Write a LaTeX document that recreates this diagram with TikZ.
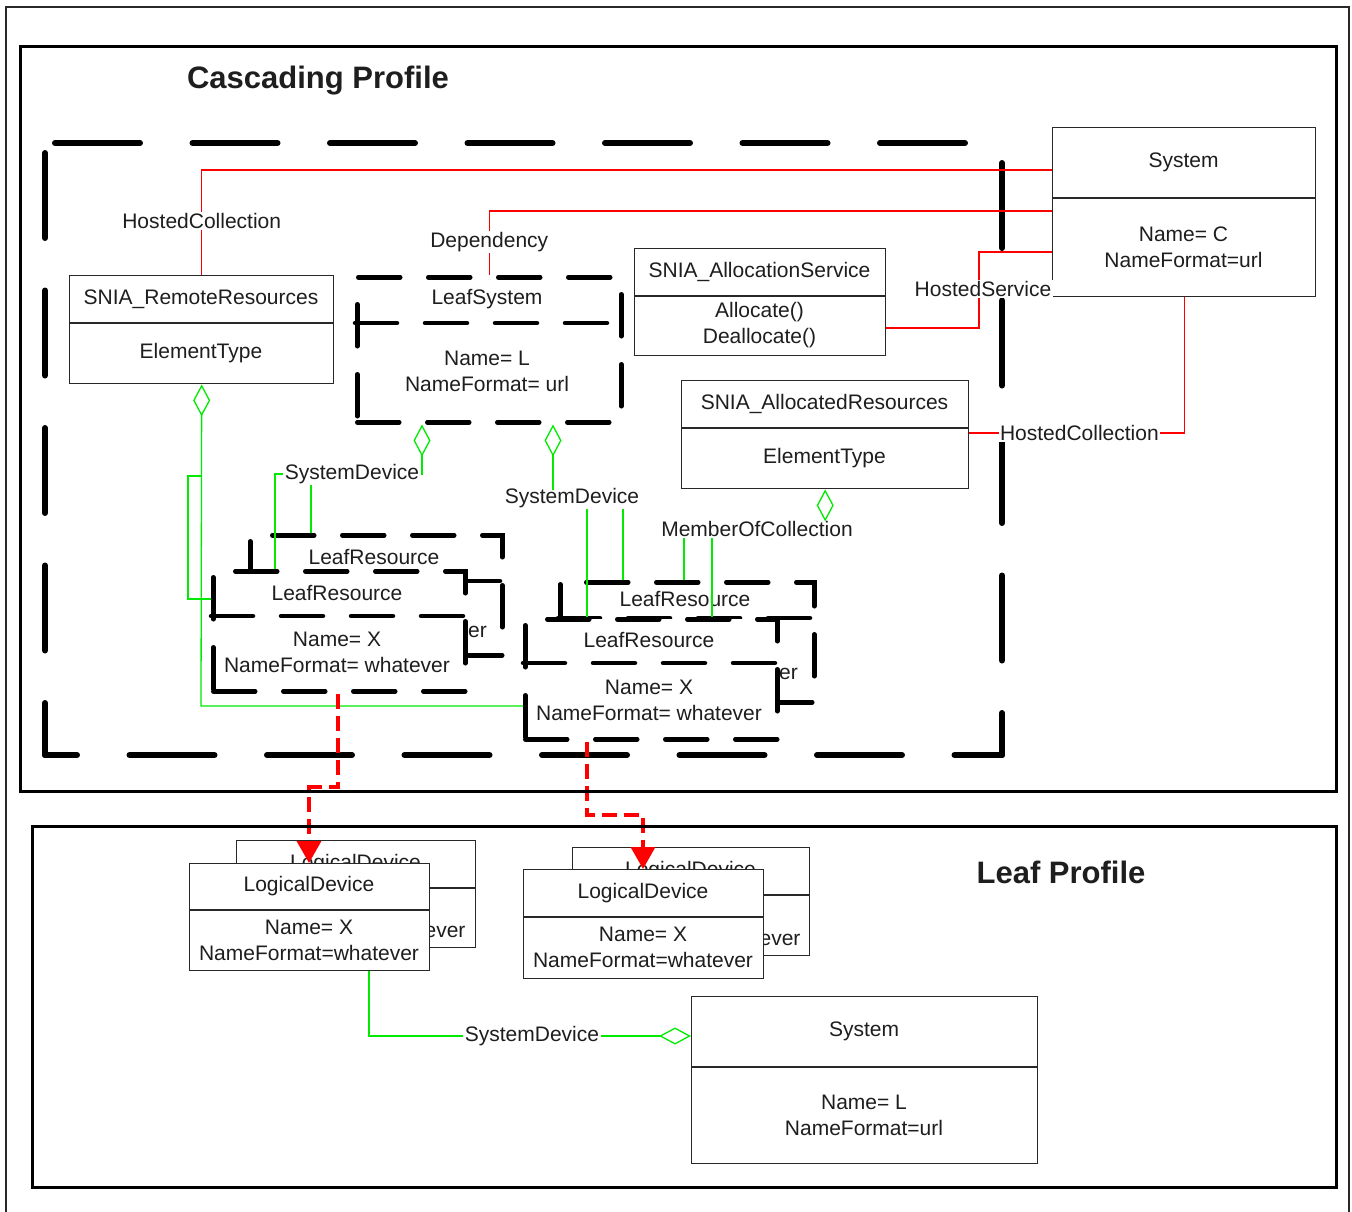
\documentclass[tikz,border=0pt]{standalone}
\usepackage{fontspec}
\setmainfont{Liberation Sans}
\usetikzlibrary{arrows.meta}
\definecolor{gr}{RGB}{0,235,0}
\definecolor{tx}{RGB}{30,30,30}
\definecolor{ln}{RGB}{40,40,40}
\tikzset{
 txt/.style={text=tx, font=\fontsize{21}{26}\selectfont, align=center, inner sep=1pt},
 ttl/.style={text=tx, font=\fontsize{31}{36}\selectfont\bfseries, inner sep=0pt},
 solidbox/.style={draw=ln, line width=1.4pt, fill=white},
 dashbox/.style={draw=black, line width=4.5pt, dash pattern=on 42pt off 28pt, line cap=round, fill=white},
 rl/.style={draw=red, line width=1.3pt},
 gl/.style={draw=gr, line width=1.3pt},
 lbl/.style={txt, fill=white, inner sep=1.5pt},
 dia/.style={{Diamond[open, length=32pt, width=17pt]}-},
 diaend/.style={-{Diamond[open, length=32pt, width=17pt]}},
 rda/.style={draw=red, line width=3.5pt, dash pattern=on 15pt off 7pt, -{Triangle[width=24pt,length=22pt]}},
 frame/.style={draw=black, line width=6pt, dash pattern=on 85pt off 52.5pt, line cap=round},
}
\newcommand\umlbox[9]{%
 \pgfmathsetmacro\myBW{#4-#2}\pgfmathsetmacro\myBH{#5-#3}%
 \node[#7, minimum width=\myBW pt, minimum height=\myBH pt, anchor=north west, inner sep=0pt] (#1) at (#2,#3) {};
 \draw[#7] (#2,#6) -- (#4,#6);
 \node[txt] at ({(#2+#4)/2},{(#3+#6)/2}) {#8};
 \node[txt] at ({(#2+#4)/2},{(#6+#5)/2}) {#9};
}
\begin{document}
\begin{tikzpicture}[x=1pt,y=-1pt]
\useasboundingbox[fill=white] (0,0) rectangle (1352,1211);

% big dashed frame
\draw[frame, dash phase=33pt] (45,755) -- (45,143);
\draw[frame, dash phase=127.5pt] (45,143) -- (1002,143);
\draw[frame, dash phase=117.5pt] (1002,143) -- (1002,755);
\draw[frame, dash phase=53pt] (45,755) -- (1002,755);

% boxes
\umlbox{sys}{1052}{127}{1315}{296}{198}{solidbox}{System}{Name= C\\NameFormat=url}
\umlbox{rr}{69}{275}{333}{383}{323}{solidbox}{SNIA\_RemoteResources}{ElementType}
\umlbox{ls}{355}{275}{619}{420}{323}{dashbox}{LeafSystem}{Name= L\\NameFormat= url}
\umlbox{as}{634}{248}{885}{355}{296}{solidbox}{SNIA\_AllocationService}{Allocate()\\Deallocate()}
\umlbox{ar}{681}{380}{968}{488}{428}{solidbox}{SNIA\_AllocatedResources}{ElementType}
\umlbox{lrbL}{248}{533}{500}{653}{581}{dashbox}{LeafResource}{Name= X\\NameFormat= whatever}
\umlbox{lrfL}{211}{569}{463}{689}{616}{dashbox}{LeafResource}{Name= X\\NameFormat= whatever}
\umlbox{lrbR}{558}{580}{812}{700}{618}{dashbox}{LeafResource}{Name= X\\NameFormat= whatever}
\umlbox{lrfR}{523}{617}{775}{737}{663}{dashbox}{LeafResource}{Name= X\\NameFormat= whatever}
\umlbox{ldbL}{236}{840}{475}{947}{888}{solidbox}{LogicalDevice}{Name= X\\NameFormat=whatever}
\umlbox{ldfL}{189}{863}{429}{970}{910}{solidbox}{LogicalDevice}{Name= X\\NameFormat=whatever}
\umlbox{ldbR}{572}{847}{809}{955}{895}{solidbox}{LogicalDevice}{Name= X\\NameFormat=whatever}
\umlbox{ldfR}{523}{869}{763}{978}{917}{solidbox}{LogicalDevice}{Name= X\\NameFormat=whatever}
\umlbox{sysL}{691}{996}{1037}{1163}{1067}{solidbox}{System}{Name= L\\NameFormat=url}

% red associations
\draw[rl] (rr.north) |- node[lbl, pos=0.257]{HostedCollection} ([yshift=-43pt]sys.north west);
\draw[rl] (ls.north) |- node[lbl, pos=0.258]{Dependency} ([yshift=-84pt]sys.north west);
\coordinate (hs) at (979,328);
\draw[rl] ([yshift=-80pt]as.north east) -- (hs) |- ([yshift=-125pt]sys.north west);
\node[lbl] (hslbl) at (983,289) {HostedService};
\draw[rl] (sys.south) |- node[lbl, pos=0.744]{HostedCollection} ([yshift=-53pt]ar.north east);

% green associations
\node[lbl] (sd1) at (352,474) {SystemDevice};
\node[lbl] (sd2) at (572,498) {SystemDevice};
\node[lbl] (moc) at (757,529) {MemberOfCollection};

\coordinate (g1) at (201,706);
\coordinate (g2) at (201,476);
\coordinate (g3) at (188,599);
\draw[gl, dia] (rr.south) -- (g1) -- (g1 -| lrfR.west);
\draw[gl] (g2) -| (g3) -- (g3 -| lrfL.west);

\draw[gl, dia] ([xshift=67pt]ls.south west) |- (sd1.east);
\draw[gl] (sd1.west) -| ([xshift=64pt]lrfL.north west);
\draw[gl] ([xshift=-41pt]sd1.south) -- ([xshift=63pt]lrbL.north west);

\draw[gl, dia] ([xshift=198pt]ls.south west) -- ++(0,65);
\draw[gl] ([xshift=15pt]sd2.south) -- ([xshift=64pt]lrfR.north west);
\draw[gl] ([xshift=51pt]sd2.south) -- ([xshift=65pt]lrbR.north west);

\draw[gl, dia] (ar.south) -- ++(0,29);
\draw[gl] ([xshift=-73pt]moc.south) -- ([xshift=126pt]lrbR.north west);
\draw[gl] ([xshift=-45pt]moc.south) -- ([xshift=189pt]lrfR.north west);

\draw[gl, diaend] ([xshift=180pt]ldfL.south west) |- node[lbl, pos=0.753]{SystemDevice} ([yshift=-40pt]sysL.north west);

% red dashed arrows
\coordinate (r1) at (338,787);
\draw[rda] ([xshift=127pt]lrfL.south west) -- (r1) -| ([xshift=120pt]ldfL.north west);
\coordinate (r2) at (587,815);
\draw[rda] ([xshift=64pt]lrfR.south west) -- (r2) -| ([xshift=120pt]ldfR.north west);

% frames and titles
\draw[ln, line width=2pt] (6,1215) -- (6,7) -- (1349,7) -- (1349,1215);
\draw[black, line width=3pt] (20,46) rectangle (1336,791);
\draw[black, line width=3pt] (32,826) rectangle (1336,1187);
\node[ttl] (t1) at (318,81) {Cascading Profile};
\node[ttl] (t2) at (1061,872) {Leaf Profile};
\end{tikzpicture}
\end{document}
